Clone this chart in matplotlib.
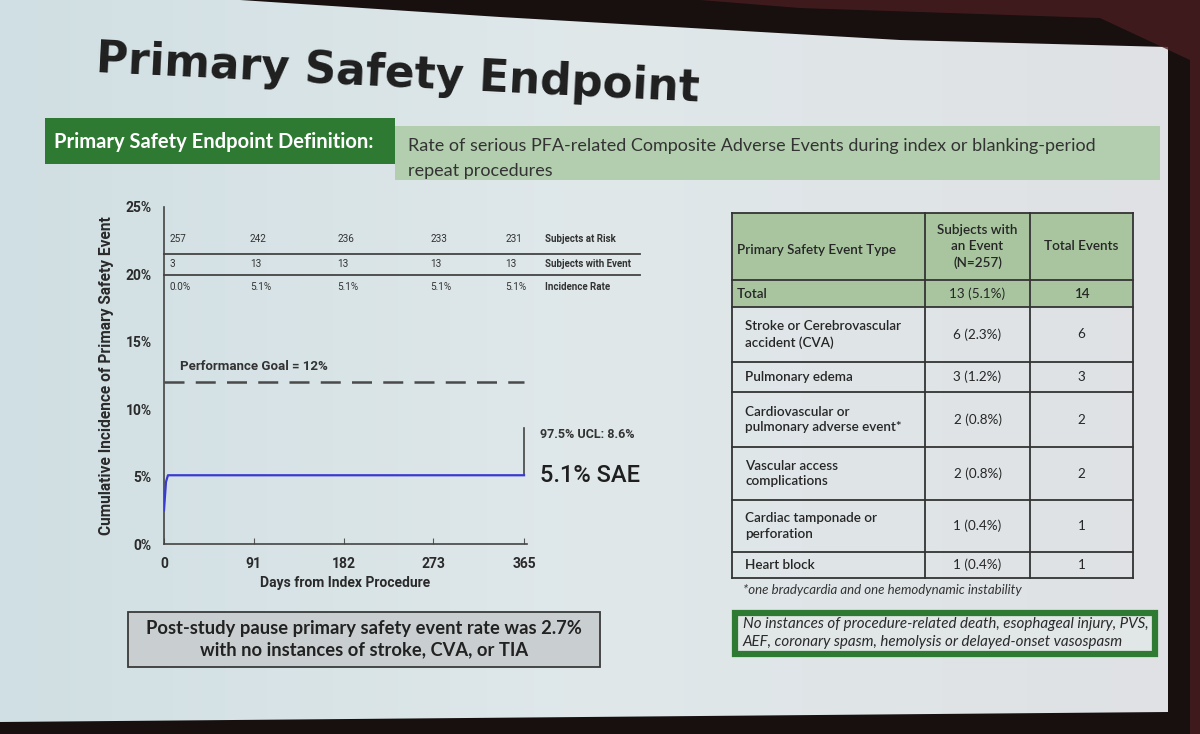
import matplotlib.pyplot as plt
import numpy as np
from matplotlib.patches import Rectangle, Polygon
from matplotlib.colors import LinearSegmentedColormap

# cumulative incidence curve (days, %)
days = [0, 2, 4, 365]
incidence = [2.5, 4.6, 5.1, 5.1]
perf_goal = 12
ucl = 8.6
sae = 5.1
x_ticks = [0, 91, 182, 273, 365]
y_ticks = [0, 5, 10, 15, 20, 25]

# numbers at risk table inside the plot
risk_x = [6, 87, 176, 270, 346]
at_risk = ['257', '242', '236', '233', '231']
with_event = ['3', '13', '13', '13', '13']
inc_rate = ['0.0%', '5.1%', '5.1%', '5.1%', '5.1%']
row_names = ['Subjects at Risk', 'Subjects with Event', 'Incidence Rate']

# event table
col_heads = ['Primary Safety Event Type', 'Subjects with\nan Event\n(N=257)', 'Total Events']
event_types = ['Total', 'Stroke or Cerebrovascular\naccident (CVA)', 'Pulmonary edema',
               'Cardiovascular or\npulmonary adverse event*', 'Vascular access\ncomplications',
               'Cardiac tamponade or\nperforation', 'Heart block']
subjects = ['13 (5.1%)', '6 (2.3%)', '3 (1.2%)', '2 (0.8%)', '2 (0.8%)', '1 (0.4%)', '1 (0.4%)']
total_events = [14, 6, 3, 2, 2, 1, 1]

green_dark = '#2f7a33'
green_light = '#b3ceae'
green_head = '#a8c59f'
ink = '#2a2a2a'

fig = plt.figure(figsize=(12, 7.34), dpi=100)
bg = fig.add_axes([0, 0, 1, 1])
bg.set_xlim(0, 1200)
bg.set_ylim(734, 0)
bg.axis('off')

# slide background with a soft left-to-right shade
grad = np.linspace(0, 1, 256).reshape(1, -1)
cmap = LinearSegmentedColormap.from_list('slide', ['#d0dfe3', '#e0e8ea', '#dfe1e4'])
bg.imshow(grad, cmap=cmap, extent=[0, 1200, 734, 0], aspect='auto', zorder=0)

# projector screen frame
bg.add_patch(Polygon([[240, 0], [1200, 0], [1200, 734], [0, 734], [0, 722],
                      [1168, 712], [1168, 47], [900, 40], [500, 17]],
                     closed=True, facecolor='#17100f', edgecolor='none', zorder=1))
bg.add_patch(Polygon([[700, 0], [1200, 0], [1200, 734], [1190, 734], [1190, 60],
                      [1100, 18], [800, 8]],
                     closed=True, facecolor='#4a1d20', edgecolor='none', zorder=1, alpha=0.8))

# title
bg.text(95, 74, 'Primary Safety Endpoint', fontsize=31.5, fontweight='bold', family='DejaVu Sans',
        color='#1f1f1f', va='center', ha='left', rotation=-2.8, zorder=3)

# definition bar
bg.add_patch(Rectangle((45, 118), 350, 46, facecolor=green_dark, edgecolor='none', zorder=2))
bg.add_patch(Rectangle((395, 126), 765, 54, facecolor=green_light, edgecolor='none', zorder=2))
bg.text(54, 142, 'Primary Safety Endpoint Definition:', fontsize=14.5, fontweight='bold',
        family='Lato', color='white', va='center', zorder=3)
bg.text(408, 146, 'Rate of serious PFA-related Composite Adverse Events during index or blanking-period',
        fontsize=13, family='Lato', color='#333333', va='center', zorder=3)
bg.text(408, 171, 'repeat procedures', fontsize=13, family='Lato', color='#333333',
        va='center', zorder=3)

# plot axes
ax = fig.add_axes([164 / 1200, (734 - 544) / 734, 363 / 1200, 337 / 734])
ax.set_facecolor('none')
ax.set_xlim(0, 368)
ax.set_ylim(0, 25)
for s in ['top', 'right']:
    ax.spines[s].set_visible(False)
for s in ['left', 'bottom']:
    ax.spines[s].set_color('#444444')
    ax.spines[s].set_linewidth(1.2)

ax.plot(days, incidence, color='#3a3ad0', lw=1.6, zorder=4)
ax.plot([0, 365], [perf_goal, perf_goal], color='#4a4a4a', lw=1.8, dashes=(8, 4.5))
ax.plot([365, 365], [sae, ucl], color='#444444', lw=1.2)

ax.set_xticks(x_ticks)
ax.set_xticklabels([str(t) for t in x_ticks], fontsize=10, fontweight='bold', color=ink,
                   family='Roboto')
ax.set_yticks(y_ticks)
ax.set_yticklabels([f'{t}%' for t in y_ticks], fontsize=10, fontweight='bold', color=ink,
                   family='Roboto')
ax.tick_params(axis='x', direction='in', length=4, color='#555555', pad=9)
ax.tick_params(axis='y', length=0, pad=9)
ax.set_xlabel('Days from Index Procedure', fontsize=10, fontweight='bold', color=ink,
              family='Roboto', labelpad=4)
ax.set_ylabel('Cumulative Incidence of Primary Safety Event', fontsize=11.2, fontweight='bold',
              color=ink, family='Roboto', labelpad=8)

ax.text(16, 13.2, 'Performance Goal = 12%', fontsize=9.5, fontweight='bold', color='#333333',
        family='Roboto', va='center')
ax.text(381, 8.1, '97.5% UCL: 8.6%', fontsize=9, fontweight='bold', color='#333333',
        family='Roboto', va='center', clip_on=False)
ax.text(381, 5.1, '5.1% SAE', fontsize=17, fontweight='medium', color='#1f1f1f',
        family='Roboto', va='center', clip_on=False)

# numbers-at-risk rows
row_y = [22.6, 20.8, 19.1]
for vals, y in zip([at_risk, with_event, inc_rate], row_y):
    for x, v in zip(risk_x, vals):
        ax.text(x, y, v, fontsize=7.2, color='#333333', family='Roboto', va='center')
for name, y in zip(row_names, row_y):
    ax.text(386, y, name, fontsize=7, fontweight='bold', color='#333333', family='Roboto',
            va='center', clip_on=False)
for y in [21.55, 19.95]:
    ax.plot([0, 483], [y, y], color='#444444', lw=1.3, clip_on=False)

# event table
col_x = [732, 925, 1030, 1133]
row_edges = [213, 280, 307, 362, 392, 447, 500, 552, 578]
for i in range(2):
    bg.add_patch(Rectangle((col_x[0], row_edges[i]), col_x[-1] - col_x[0],
                           row_edges[i + 1] - row_edges[i], facecolor=green_head,
                           edgecolor='none', zorder=2))
for y in row_edges:
    bg.plot([col_x[0], col_x[-1]], [y, y], color='#333333', lw=1.3, zorder=3)
for x in col_x:
    bg.plot([x, x], [row_edges[0], row_edges[-1]], color='#333333', lw=1.3, zorder=3)

tfont = dict(family='Lato', fontsize=9.7, color='#262626', zorder=4)
head_mid = (row_edges[0] + row_edges[1]) / 2
bg.text(col_x[0] + 5, head_mid + 4, col_heads[0], va='center', fontweight='semibold', **tfont)
bg.text((col_x[1] + col_x[2]) / 2, head_mid, col_heads[1], va='center', ha='center',
        fontweight='semibold', linespacing=1.45, **tfont)
bg.text((col_x[2] + col_x[3]) / 2, head_mid, col_heads[2], va='center', ha='center',
        fontweight='semibold', **tfont)

for i, (name, subj, tot) in enumerate(zip(event_types, subjects, total_events)):
    ym = (row_edges[i + 1] + row_edges[i + 2]) / 2
    indent = 5 if i == 0 else 13
    bg.text(col_x[0] + indent, ym, name, va='center', fontweight='semibold', linespacing=1.35,
            **tfont)
    bg.text((col_x[1] + col_x[2]) / 2, ym, subj, va='center', ha='center', **tfont)
    bg.text((col_x[2] + col_x[3]) / 2, ym, str(tot), va='center', ha='center',
            fontweight='semibold' if i == 0 else 'normal', **tfont)

bg.text(743, 590, '*one bradycardia and one hemodynamic instability', fontsize=9.5,
        style='italic', family='Lato', color='#333333', va='center', zorder=4)

# bottom notes
bg.add_patch(Rectangle((128, 612), 472, 55, facecolor='#c9cfd1', edgecolor='#3a3a3a',
                       lw=1.3, zorder=2))
bg.text(364, 639, 'Post-study pause primary safety event rate was 2.7%\nwith no instances of stroke, CVA, or TIA',
        fontsize=13.2, fontweight='bold', family='Lato', color='#222222', ha='center',
        va='center', linespacing=1.35, zorder=3)
bg.add_patch(Rectangle((735, 613), 420, 41, facecolor='#e1e6e7', edgecolor=green_dark,
                       lw=4.5, zorder=2))
bg.text(743, 633, 'No instances of procedure-related death, esophageal injury, PVS,\nAEF, coronary spasm, hemolysis or delayed-onset vasospasm',
        fontsize=10.9, style='italic', family='Lato', color='#2a2a2a', ha='left',
        va='center', linespacing=1.3, zorder=3)

fig.savefig('out.png', dpi=100, facecolor=fig.get_facecolor())
